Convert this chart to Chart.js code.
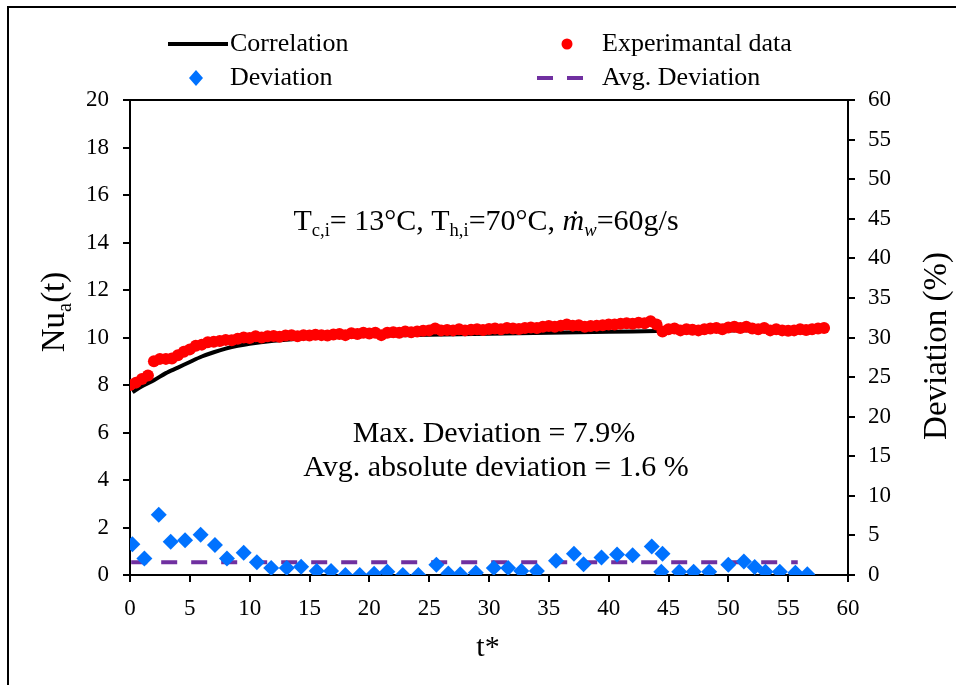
<!DOCTYPE html>
<html>
<head>
<meta charset="utf-8">
<script src="https://cdn.jsdelivr.net/npm/chart.js@4.4.0/dist/chart.umd.min.js"></script>
<style>
    body { margin: 0; background: #fff; }
    #wrap { width: 956px; height: 685px; position: relative; }
</style>
</head>
<body>
<div id="wrap"><canvas id="myChart"></canvas></div>
<script>
// Experimental Nu_a(t) vs t*
var expT = [0, 0.5, 1, 1.5, 2, 2.5, 3, 3.5, 4, 4.5, 5, 5.5, 6, 6.5, 7, 7.5, 8, 8.5, 9, 9.5,
    10, 10.5, 11, 11.5, 12, 12.5, 13, 13.5, 14, 14.5, 15, 15.5, 16, 16.5, 17, 17.5, 18, 18.5, 19, 19.5,
    20, 20.5, 21, 21.5, 22, 22.5, 23, 23.5, 24, 24.5, 25, 25.5, 26, 26.5, 27, 27.5, 28, 28.5, 29, 29.5,
    30, 30.5, 31, 31.5, 32, 32.5, 33, 33.5, 34, 34.5, 35, 35.5, 36, 36.5, 37, 37.5, 38, 38.5, 39, 39.5,
    40, 40.5, 41, 41.5, 42, 42.5, 43, 43.5, 44, 44.5, 45, 45.5, 46, 46.5, 47, 47.5, 48, 48.5, 49, 49.5,
    50, 50.5, 51, 51.5, 52, 52.5, 53, 53.5, 54, 54.5, 55, 55.5, 56, 56.5, 57, 57.5, 58];
var expNu = [8.0, 8.1, 8.25, 8.4, 9.0, 9.1, 9.1, 9.12, 9.25, 9.4, 9.5, 9.65, 9.7, 9.8, 9.82, 9.85, 9.9, 9.88, 9.95, 10.0,
    9.98, 10.05, 10.0, 10.05, 10.06, 10.03, 10.08, 10.1, 10.05, 10.1, 10.08, 10.12, 10.1, 10.08, 10.13, 10.15, 10.1, 10.18, 10.15, 10.2,
    10.17, 10.2, 10.1, 10.2, 10.22, 10.2, 10.25, 10.22, 10.25, 10.28, 10.3, 10.38, 10.3, 10.32, 10.3, 10.35, 10.3, 10.33, 10.35, 10.32,
    10.36, 10.38, 10.35, 10.4, 10.38, 10.36, 10.4, 10.42, 10.4, 10.45, 10.48, 10.45, 10.5, 10.55, 10.5, 10.52, 10.45, 10.48, 10.5, 10.52,
    10.55, 10.55, 10.58, 10.6, 10.58, 10.62, 10.6, 10.68, 10.55, 10.25, 10.35, 10.38, 10.3, 10.35, 10.33, 10.3, 10.35, 10.38, 10.4, 10.35,
    10.42, 10.45, 10.4, 10.45, 10.38, 10.35, 10.4, 10.3, 10.35, 10.3, 10.28, 10.3, 10.35, 10.32, 10.35, 10.38, 10.4];

// Correlation curve
var corrT = [0.2, 1, 2, 3, 4, 5, 6, 7, 8, 9, 10, 12, 14, 16, 18, 20, 25, 30, 35, 40, 44, 48, 52, 56, 58];
var corrNu = [7.7, 7.95, 8.2, 8.5, 8.73, 8.97, 9.2, 9.38, 9.53, 9.65, 9.74, 9.86, 9.95, 10.0, 10.04, 10.07, 10.12, 10.16, 10.2, 10.24, 10.27, 10.28, 10.3, 10.3, 10.3];

// Deviation (%)
var devT = [0.2, 1.2, 2.4, 3.4, 4.6, 5.9, 7.1, 8.1, 9.5, 10.6, 11.8, 13.1, 14.3, 15.6, 16.8, 18.0, 19.2, 20.4, 21.5, 22.8,
    24.1, 25.6, 26.6, 27.6, 28.9, 30.4, 31.6, 32.7, 34.0, 35.6, 37.1, 37.9, 39.4, 40.7, 42.0, 43.6, 44.5, 44.4, 45.9, 47.1,
    48.4, 50.0, 51.3, 52.2, 53.1, 54.3, 55.6, 56.6];
var devPct = [3.9, 2.1, 7.6, 4.2, 4.4, 5.1, 3.8, 2.1, 2.8, 1.6, 0.9, 0.9, 1.05, 0.5, 0.5, 0, 0, 0.15, 0.4, 0,
    0, 1.3, 0.2, 0.1, 0.3, 0.9, 0.9, 0.5, 0.5, 1.8, 2.7, 1.35, 2.2, 2.6, 2.5, 3.6, 2.7, 0.4, 0.4, 0.4,
    0.4, 1.3, 1.7, 1.0, 0.4, 0.4, 0.3, 0.1];

// Average deviation line
var avgT = [0.1, 55.8];
var avgDev = [1.6, 1.6];

var xTicks = [0, 5, 10, 15, 20, 25, 30, 35, 40, 45, 50, 55, 60];

var SERIF = '"Liberation Serif", "Times New Roman", serif';

function pts(xs, ys) {
    return xs.map(function (x, i) { return { x: x, y: ys[i] }; });
}

// texte avec indices (sub) et italique
function richWidth(ctx, parts, size) {
    var w = 0;
    parts.forEach(function (p) {
        var s = p.sub ? size * 0.62 : size;
        ctx.font = (p.italic ? 'italic ' : '') + s + 'px ' + SERIF;
        w += ctx.measureText(p.t).width;
    });
    return w;
}
function drawRich(ctx, parts, x, y, size, align) {
    var w = richWidth(ctx, parts, size);
    var cx = align === 'center' ? x - w / 2 : x;
    ctx.textAlign = 'left';
    ctx.textBaseline = 'alphabetic';
    parts.forEach(function (p) {
        var s = p.sub ? size * 0.62 : size;
        ctx.font = (p.italic ? 'italic ' : '') + s + 'px ' + SERIF;
        ctx.fillText(p.t, cx, y + (p.sub ? size * 0.2 : 0));
        cx += ctx.measureText(p.t).width;
    });
}

var decor = {
    id: 'decor',
    afterDraw: function (chart) {
        var ctx = chart.ctx;
        var a = chart.chartArea;
        ctx.save();
        ctx.strokeStyle = '#000';
        ctx.lineWidth = 2;
        // cadre
        ctx.beginPath();
        ctx.moveTo(8, 685);
        ctx.lineTo(8, 7);
        ctx.lineTo(956, 7);
        ctx.stroke();
        // ligne du haut du graphique
        ctx.beginPath();
        ctx.moveTo(a.left, a.top);
        ctx.lineTo(a.right, a.top);
        ctx.stroke();

        ctx.fillStyle = '#000';
        // Legende
        ctx.font = '26px ' + SERIF;
        ctx.textAlign = 'left';
        ctx.textBaseline = 'middle';
        ctx.lineWidth = 4;
        ctx.beginPath();
        ctx.moveTo(168, 44);
        ctx.lineTo(228, 44);
        ctx.stroke();
        ctx.fillText('Correlation', 230, 44);
        ctx.fillStyle = '#ff0000';
        ctx.beginPath();
        ctx.arc(567, 44, 5.5, 0, Math.PI * 2);
        ctx.fill();
        ctx.fillStyle = '#000';
        ctx.fillText('Experimantal data', 602, 44);
        ctx.fillStyle = '#0072ff';
        ctx.beginPath();
        ctx.moveTo(196, 70);
        ctx.lineTo(203, 78);
        ctx.lineTo(196, 86);
        ctx.lineTo(189, 78);
        ctx.closePath();
        ctx.fill();
        ctx.fillStyle = '#000';
        ctx.fillText('Deviation', 230, 78);
        ctx.strokeStyle = '#7030a0';
        ctx.setLineDash([16, 14]);
        ctx.beginPath();
        ctx.moveTo(537, 78);
        ctx.lineTo(583, 78);
        ctx.stroke();
        ctx.setLineDash([]);
        ctx.fillText('Avg. Deviation', 602, 78);

        // Titres des axes
        ctx.font = '30px ' + SERIF;
        ctx.textAlign = 'center';
        ctx.textBaseline = 'middle';
        ctx.fillText('t*', 488, 648);
        ctx.save();
        ctx.translate(937, 346);
        ctx.rotate(-Math.PI / 2);
        ctx.font = '33px ' + SERIF;
        ctx.fillText('Deviation (%)', 0, 0);
        ctx.restore();
        ctx.save();
        ctx.translate(64, 312);
        ctx.rotate(-Math.PI / 2);
        drawRich(ctx, [{ t: 'Nu' }, { t: 'a', sub: true }, { t: '(t)' }], 0, 0, 33, 'center');
        ctx.restore();

        // Annotations
        drawRich(ctx, [
            { t: 'T' }, { t: 'c,i', sub: true }, { t: '= 13°C, T' }, { t: 'h,i', sub: true },
            { t: '=70°C, ' }, { t: 'ṁ', italic: true }, { t: 'w', italic: true, sub: true }, { t: '=60g/s' }
        ], 486, 230, 30, 'center');
        ctx.font = '30px ' + SERIF;
        ctx.textAlign = 'center';
        ctx.textBaseline = 'alphabetic';
        ctx.fillText('Max. Deviation = 7.9%', 494, 442);
        ctx.fillText('Avg. absolute deviation = 1.6 %', 496, 476);
        ctx.restore();
    }
};

var ctx = document.getElementById('myChart').getContext('2d');
var myChart = new Chart(ctx, {
    type: 'scatter',
    data: {
        datasets: [
            {
                label: 'Experimantal data',
                data: pts(expT, expNu),
                yAxisID: 'y',
                backgroundColor: '#ff0000',
                borderColor: '#ff0000',
                pointRadius: 6,
                pointBorderWidth: 0,
                showLine: false
            },
            {
                label: 'Correlation',
                data: pts(corrT, corrNu),
                yAxisID: 'y',
                borderColor: '#000',
                borderWidth: 4,
                pointRadius: 0,
                showLine: true,
                tension: 0.3
            },
            {
                label: 'Deviation',
                data: pts(devT, devPct),
                yAxisID: 'y2',
                pointStyle: 'rectRot',
                backgroundColor: '#0072ff',
                borderColor: '#0072ff',
                pointRadius: 8,
                pointBorderWidth: 0,
                showLine: false
            },
            {
                label: 'Avg. Deviation',
                data: pts(avgT, avgDev),
                yAxisID: 'y2',
                borderColor: '#7030a0',
                borderWidth: 4,
                borderDash: [16, 14],
                pointRadius: 0,
                showLine: true
            }
        ]
    },
    options: {
        responsive: true,
        maintainAspectRatio: false,
        animation: false,
        layout: { padding: { top: 100, left: 0, right: 0, bottom: 0 } },
        plugins: { legend: { display: false }, tooltip: { enabled: false } },
        scales: {
            x: {
                type: 'linear',
                min: 0,
                max: 60,
                afterFit: function (s) { s.height = 110; },
                afterBuildTicks: function (s) { s.ticks = xTicks.map(function (v) { return { value: v }; }); },
                grid: { drawOnChartArea: false, color: '#000', tickLength: 7, lineWidth: 2 },
                border: { color: '#000', width: 2 },
                ticks: { color: '#000', padding: 13, font: { family: SERIF, size: 23 }, maxRotation: 0 }
            },
            y: {
                position: 'left',
                min: 0,
                max: 20,
                afterFit: function (s) { s.width = 130; },
                grid: { drawOnChartArea: false, color: '#000', tickLength: 7, lineWidth: 2 },
                border: { color: '#000', width: 2 },
                ticks: { color: '#000', stepSize: 2, padding: 14, font: { family: SERIF, size: 23 } }
            },
            y2: {
                position: 'right',
                min: 0,
                max: 60,
                afterFit: function (s) { s.width = 108; },
                grid: { drawOnChartArea: false, color: '#000', tickLength: 7, lineWidth: 2 },
                border: { color: '#000', width: 2 },
                ticks: { color: '#000', stepSize: 5, padding: 13, font: { family: SERIF, size: 23 } }
            }
        }
    },
    plugins: [decor]
});
</script>
</body>
</html>
